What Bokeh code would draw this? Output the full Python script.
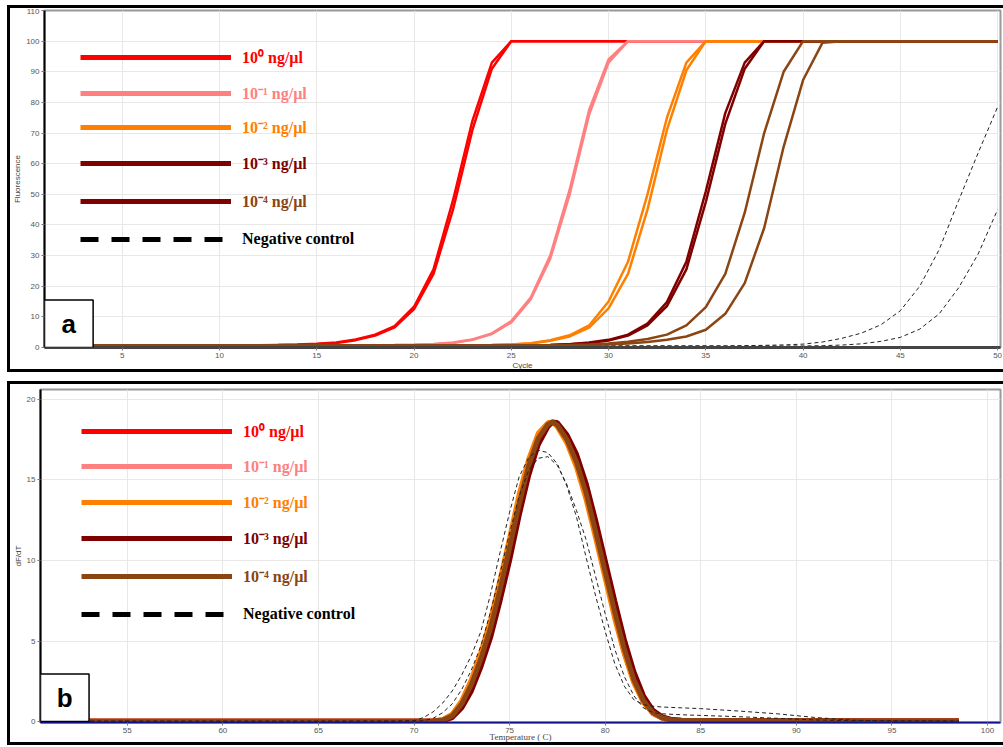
from bokeh.plotting import figure
from bokeh.models import Range1d, Legend, LegendItem, BoxAnnotation, Label, SingleIntervalTicker
from bokeh.layouts import column
from bokeh.embed import file_html
from bokeh.resources import INLINE

# ---------------- Panel a: amplification curves ----------------
cycles = list(range(1, 51))

red_1 = [0.7, 0.7, 0.7, 0.7, 0.7, 0.7, 0.7, 0.7, 0.7, 0.7,
         0.7, 0.75, 0.8, 0.9, 1.1, 1.5, 2.4, 3.9, 6.6, 12.5,
         24, 45, 71, 91, 100, 100, 100, 100, 100, 100,
         100, 100, 100, 100, 100, 100, 100, 100, 100, 100,
         100, 100, 100, 100, 100, 100, 100, 100, 100, 100]
red_2 = [0.7, 0.7, 0.7, 0.7, 0.7, 0.7, 0.7, 0.7, 0.7, 0.7,
         0.7, 0.75, 0.85, 0.95, 1.2, 1.6, 2.6, 4.2, 7.0, 13.3,
         25.5, 48, 74, 93, 100, 100, 100, 100, 100, 100,
         100, 100, 100, 100, 100, 100, 100, 100, 100, 100,
         100, 100, 100, 100, 100, 100, 100, 100, 100, 100]
pink_1 = [0.7, 0.7, 0.7, 0.7, 0.7, 0.7, 0.7, 0.7, 0.7, 0.7,
          0.7, 0.7, 0.7, 0.7, 0.7, 0.7, 0.7, 0.75, 0.8, 0.9,
          1.1, 1.5, 2.5, 4.4, 8.2, 15.8, 29, 50, 76, 93,
          100, 100, 100, 100, 100, 100, 100, 100, 100, 100,
          100, 100, 100, 100, 100, 100, 100, 100, 100, 100]
pink_2 = [0.7, 0.7, 0.7, 0.7, 0.7, 0.7, 0.7, 0.7, 0.7, 0.7,
          0.7, 0.7, 0.7, 0.7, 0.7, 0.7, 0.7, 0.75, 0.8, 0.9,
          1.15, 1.6, 2.6, 4.6, 8.6, 16.3, 30, 51.5, 77.5, 94,
          100, 100, 100, 100, 100, 100, 100, 100, 100, 100,
          100, 100, 100, 100, 100, 100, 100, 100, 100, 100]
orange_1 = [0.7, 0.7, 0.7, 0.7, 0.7, 0.7, 0.7, 0.7, 0.7, 0.7,
            0.7, 0.7, 0.7, 0.7, 0.7, 0.7, 0.7, 0.7, 0.7, 0.7,
            0.7, 0.7, 0.75, 0.85, 1.0, 1.4, 2.4, 4.0, 7.2, 15,
            28, 50, 75, 93, 100, 100, 100, 100, 100, 100,
            100, 100, 100, 100, 100, 100, 100, 100, 100, 100]
orange_2 = [0.7, 0.7, 0.7, 0.7, 0.7, 0.7, 0.7, 0.7, 0.7, 0.7,
            0.7, 0.7, 0.7, 0.7, 0.7, 0.7, 0.7, 0.7, 0.7, 0.7,
            0.7, 0.7, 0.75, 0.8, 0.95, 1.3, 2.2, 3.6, 6.5, 12.8,
            24, 45, 71, 90.5, 100, 100, 100, 100, 100, 100,
            100, 100, 100, 100, 100, 100, 100, 100, 100, 100]
darkred_1 = [0.7, 0.7, 0.7, 0.7, 0.7, 0.7, 0.7, 0.7, 0.7, 0.7,
             0.7, 0.7, 0.7, 0.7, 0.7, 0.7, 0.7, 0.7, 0.7, 0.7,
             0.7, 0.7, 0.7, 0.7, 0.7, 0.75, 0.85, 1.1, 1.6, 2.5,
             4.2, 7.8, 14.8, 28, 51, 76.5, 93, 100, 100, 100,
             100, 100, 100, 100, 100, 100, 100, 100, 100, 100]
darkred_2 = [0.7, 0.7, 0.7, 0.7, 0.7, 0.7, 0.7, 0.7, 0.7, 0.7,
             0.7, 0.7, 0.7, 0.7, 0.7, 0.7, 0.7, 0.7, 0.7, 0.7,
             0.7, 0.7, 0.7, 0.7, 0.7, 0.75, 0.8, 1.05, 1.5, 2.3,
             3.9, 7.2, 13.5, 25.5, 47.5, 73, 91, 100, 100, 100,
             100, 100, 100, 100, 100, 100, 100, 100, 100, 100]
brown_1 = [0.7, 0.7, 0.7, 0.7, 0.7, 0.7, 0.7, 0.7, 0.7, 0.7,
           0.7, 0.7, 0.7, 0.7, 0.7, 0.7, 0.7, 0.7, 0.7, 0.7,
           0.7, 0.7, 0.7, 0.7, 0.7, 0.7, 0.75, 0.8, 0.95, 1.3,
           1.9, 2.8, 4.2, 7.2, 13.2, 24, 44, 70, 90, 100,
           100, 100, 100, 100, 100, 100, 100, 100, 100, 100]
brown_2 = [0.7, 0.7, 0.7, 0.7, 0.7, 0.7, 0.7, 0.7, 0.7, 0.7,
           0.7, 0.7, 0.7, 0.7, 0.7, 0.7, 0.7, 0.7, 0.7, 0.7,
           0.7, 0.7, 0.7, 0.7, 0.7, 0.7, 0.7, 0.7, 0.85, 1.0,
           1.3, 1.8, 2.5, 3.6, 5.8, 11, 21, 39, 65.5, 87.3,
           99.5, 100, 100, 100, 100, 100, 100, 100, 100, 100]
neg_1 = [0.5, 0.5, 0.5, 0.5, 0.5, 0.5, 0.5, 0.5, 0.5, 0.5,
         0.5, 0.5, 0.5, 0.5, 0.5, 0.5, 0.5, 0.5, 0.5, 0.5,
         0.5, 0.5, 0.5, 0.5, 0.5, 0.5, 0.5, 0.5, 0.5, 0.5,
         0.5, 0.5, 0.5, 0.5, 0.5, 0.5, 0.6, 0.7, 0.85, 1.1,
         1.8, 3.0, 4.7, 7.4, 12, 20, 32, 48, 63.5, 78.5]
neg_2 = [0.5, 0.5, 0.5, 0.5, 0.5, 0.5, 0.5, 0.5, 0.5, 0.5,
         0.5, 0.5, 0.5, 0.5, 0.5, 0.5, 0.5, 0.5, 0.5, 0.5,
         0.5, 0.5, 0.5, 0.5, 0.5, 0.5, 0.5, 0.5, 0.5, 0.5,
         0.5, 0.5, 0.5, 0.5, 0.5, 0.5, 0.5, 0.5, 0.5, 0.5,
         0.6, 0.8, 1.2, 2.0, 3.3, 6.0, 11, 19.5, 30.5, 45]

# ---------------- Panel b: melt curves ----------------
temp = [50.5, 55, 60, 65, 70,
        71, 71.5, 72, 72.5, 73, 73.5, 74, 74.5, 75, 75.5, 76, 76.5, 77,
        77.25,
        77.5, 78, 78.5, 79, 79.5, 80, 80.5, 81, 81.5, 82, 82.5, 83, 83.5, 84,
        85, 87, 90, 93, 95, 98.5]
red_b = [0.02, 0.02, 0.02, 0.02, 0.02,
         0.03, 0.1, 0.4, 1.2, 2.4, 4.0, 6.0, 8.4, 11.0, 13.7, 16.0, 17.7, 18.5,
         18.6,
         18.35, 17.4, 16.0, 14.0, 11.6, 9.1, 6.6, 4.3, 2.5, 1.2, 0.5, 0.2, 0.1, 0.07,
         0.06, 0.05, 0.05, 0.04, 0.04, 0.03]
pink_b = [0.02, 0.02, 0.02, 0.02, 0.02,
          0.03, 0.09, 0.38, 1.15, 2.35, 3.95, 5.9, 8.3, 10.9, 13.6, 15.95, 17.65, 18.5,
          18.6,
          18.38, 17.45, 16.05, 14.1, 11.7, 9.2, 6.7, 4.4, 2.55, 1.25, 0.52, 0.21, 0.1, 0.07,
          0.06, 0.05, 0.05, 0.04, 0.04, 0.03]
orange_b = [0.02, 0.02, 0.02, 0.02, 0.02,
            0.04, 0.12, 0.45, 1.3, 2.6, 4.3, 6.3, 8.8, 11.4, 14.1, 16.3, 17.9, 18.55,
            18.6,
            18.3, 17.3, 15.8, 13.8, 11.4, 8.9, 6.4, 4.2, 2.4, 1.2, 0.5, 0.2, 0.1, 0.07,
            0.06, 0.05, 0.05, 0.04, 0.04, 0.03]
darkred_b = [0.02, 0.02, 0.02, 0.02, 0.02,
             0.02, 0.05, 0.25, 0.85, 1.9, 3.4, 5.2, 7.5, 10.0, 12.8, 15.3, 17.2, 18.3,
             18.6,
             18.55, 17.8, 16.6, 14.8, 12.5, 10.0, 7.5, 5.1, 3.1, 1.6, 0.7, 0.28, 0.12, 0.08,
             0.06, 0.05, 0.05, 0.04, 0.04, 0.03]
brown_b = [0.02, 0.02, 0.02, 0.02, 0.02,
           0.03, 0.08, 0.35, 1.1, 2.3, 3.9, 5.8, 8.2, 10.8, 13.5, 15.9, 17.6, 18.45,
           18.6,
           18.4, 17.5, 16.1, 14.2, 11.8, 9.3, 6.8, 4.5, 2.6, 1.3, 0.55, 0.22, 0.1, 0.07,
           0.06, 0.05, 0.05, 0.04, 0.04, 0.03]
temp_neg = [50.5, 55, 60, 65, 69,
            70, 70.5, 71, 71.5, 72, 72.5, 73, 73.5, 74, 74.5, 75, 75.5, 76, 76.5,
            77, 77.5, 78, 78.5, 79, 79.5, 80, 80.5, 81, 81.5, 82, 82.5, 83,
            84, 85, 87, 89, 91, 93, 95, 98.5]
neg_1_b = [0.02, 0.02, 0.02, 0.02, 0.03,
           0.05, 0.25, 0.6, 1.15, 1.9, 2.9, 4.1, 5.6, 7.9, 10.5, 13.0, 15.2, 16.4, 16.85,
           16.7, 16.0, 14.6, 12.7, 10.2, 7.8, 5.6, 3.6, 2.2, 1.35, 1.05, 0.95, 0.9,
           0.85, 0.8, 0.65, 0.48, 0.25, 0.08, 0.04, 0.03]
neg_2_b = [0.02, 0.02, 0.02, 0.02, 0.02,
           0.03, 0.05, 0.2, 0.55, 1.1, 2.0, 3.2, 4.7, 6.8, 9.2, 11.7, 14.0, 15.6, 16.35,
           16.45, 15.9, 14.7, 13.1, 11.3, 9.0, 6.7, 4.5, 2.8, 1.6, 0.85, 0.55, 0.48,
           0.42, 0.38, 0.3, 0.2, 0.1, 0.05, 0.04, 0.03]

legend_labels = ["10\u2070 ng/\u00b5l", "10\u207b\u00b9 ng/\u00b5l", "10\u207b\u00b2 ng/\u00b5l",
                 "10\u207b\u00b3 ng/\u00b5l", "10\u207b\u2074 ng/\u00b5l", "Negative control"]

RED, PINK, ORANGE, DARKRED, BROWN = "#FF0000", "#FF8080", "#FF8000", "#800000", "#8B4513"
TICK_FONT = "Liberation Sans"
NAN = float("nan")
BORDER = {"border-top": "3px solid black", "border-left": "3px solid black",
          "border-bottom": "3px solid black"}


def style_axes(p, xint, yint, xaxis_color, xaxis_width):
    p.xaxis.ticker = SingleIntervalTicker(interval=xint, num_minor_ticks=0)
    p.yaxis.ticker = SingleIntervalTicker(interval=yint, num_minor_ticks=0)
    p.xgrid.ticker = SingleIntervalTicker(interval=xint)
    p.ygrid.ticker = SingleIntervalTicker(interval=yint)
    p.grid.grid_line_color = "#e8e8e8"
    p.grid.grid_line_width = 1
    for ax in (p.xaxis, p.yaxis):
        ax.major_label_text_font = TICK_FONT
        ax.major_label_text_font_size = "8px"
        ax.major_label_text_color = "#555555"
        ax.major_tick_line_color = "#777777"
        ax.major_tick_out = 3
        ax.major_tick_in = 0
        ax.minor_tick_line_color = None
        ax.major_label_standoff = 2
        ax.axis_label_text_font = TICK_FONT
        ax.axis_label_text_font_size = "8px"
        ax.axis_label_text_font_style = "normal"
        ax.axis_label_text_color = "#444444"
        ax.axis_label_standoff = 1
    p.xaxis.axis_label_standoff = 0
    p.yaxis.axis_line_color = "black"
    p.yaxis.axis_line_width = 2
    p.xaxis.axis_line_color = xaxis_color
    p.xaxis.axis_line_width = xaxis_width
    p.outline_line_color = "#999999"
    p.outline_line_width = 2


def add_legends(p, x0, y_offsets, specs):
    for (label, lcolor, dash, tcolor), yo in zip(specs, y_offsets):
        r = p.line(x=[NAN], y=[NAN], line_color=lcolor, line_width=5, line_dash=dash)
        leg = Legend(items=[LegendItem(label=label, renderers=[r])], location=(x0, yo),
                     glyph_width=151, glyph_height=20, label_height=20, label_standoff=11,
                     padding=0, margin=0, spacing=0,
                     border_line_alpha=0, background_fill_alpha=0,
                     label_text_color=tcolor, label_text_font="Liberation Serif",
                     label_text_font_style="bold", label_text_font_size="16px")
        p.add_layout(leg)


# ---------- figure a ----------
pa = figure(width=996, height=367, x_range=Range1d(1, 50.15), y_range=Range1d(0, 110),
            output_backend="svg", toolbar_location=None,
            min_border_left=32, min_border_right=6, min_border_top=2, min_border_bottom=28,
            x_axis_label="Cycle", y_axis_label="Fluorescence")
pa.styles = BORDER
style_axes(pa, 5, 10, "#444444", 3)

for ys in (neg_1, neg_2):
    pa.line(cycles, ys, line_color="#222222", line_width=1, line_dash="4 3")
for ys, c in ((red_1, RED), (red_2, RED), (pink_1, PINK), (pink_2, PINK),
              (orange_1, ORANGE), (orange_2, ORANGE), (darkred_1, DARKRED), (darkred_2, DARKRED),
              (brown_1, BROWN), (brown_2, BROWN)):
    pa.line(cycles, ys, line_color=c, line_width=2.5)

specs_a = [(legend_labels[0], RED, "solid", RED), (legend_labels[1], PINK, "solid", PINK),
           (legend_labels[2], ORANGE, "solid", ORANGE), (legend_labels[3], DARKRED, "solid", DARKRED),
           (legend_labels[4], DARKRED, "solid", BROWN), (legend_labels[5], "black", "18 13", "black")]
add_legends(pa, 36, [279, 243, 209, 173, 135, 98], specs_a)

pa.add_layout(BoxAnnotation(left=1, right=3.5, bottom=0, top=15.5, fill_color="white", fill_alpha=1,
                            line_color="black", line_alpha=1, line_width=1.5))
pa.add_layout(Label(x=2.25, y=7.6, text="a", text_align="center", text_baseline="middle",
                    text_font=TICK_FONT, text_font_style="bold", text_font_size="26px", text_color="black"))

# ---------- figure b ----------
pb = figure(width=996, height=364, x_range=Range1d(50.46, 100.68), y_range=Range1d(-0.06, 20.62),
            output_backend="svg", toolbar_location=None,
            min_border_left=27, min_border_right=6, min_border_top=5, min_border_bottom=26,
            x_axis_label="Temperature ( C)", y_axis_label="dF/dT")
pb.styles = BORDER
style_axes(pb, 5, 5, "#12128f", 2)
pb.xaxis.axis_label_text_font = "Liberation Serif"
pb.xaxis.axis_label_text_font_size = "9px"
pb.xaxis.axis_label_standoff = -4

for ys, c in ((red_b, RED), (pink_b, PINK), (orange_b, ORANGE), (darkred_b, DARKRED), (brown_b, BROWN)):
    pb.line(temp, ys, line_color=c, line_width=5)
for ys in (neg_1_b, neg_2_b):
    pb.line(temp_neg, ys, line_color="#222222", line_width=1, line_dash="4 3")

specs_b = [(legend_labels[0], RED, "solid", RED), (legend_labels[1], PINK, "solid", PINK),
           (legend_labels[2], ORANGE, "solid", ORANGE), (legend_labels[3], DARKRED, "solid", DARKRED),
           (legend_labels[4], BROWN, "solid", BROWN), (legend_labels[5], "black", "18 13", "black")]
add_legends(pb, 41, [280, 245, 209, 173, 135, 98], specs_b)

pb.add_layout(BoxAnnotation(left=50.46, right=53.0, bottom=0, top=2.95, fill_color="white", fill_alpha=1,
                            line_color="black", line_alpha=1, line_width=1.5))
pb.add_layout(Label(x=51.73, y=1.45, text="b", text_align="center", text_baseline="middle",
                    text_font=TICK_FONT, text_font_style="bold", text_font_size="26px", text_color="black"))

layout = column(column(pa), column(pb), spacing=9, margin=(5, 0, 0, 7))
open("out.html", "w").write(file_html(layout, INLINE))
